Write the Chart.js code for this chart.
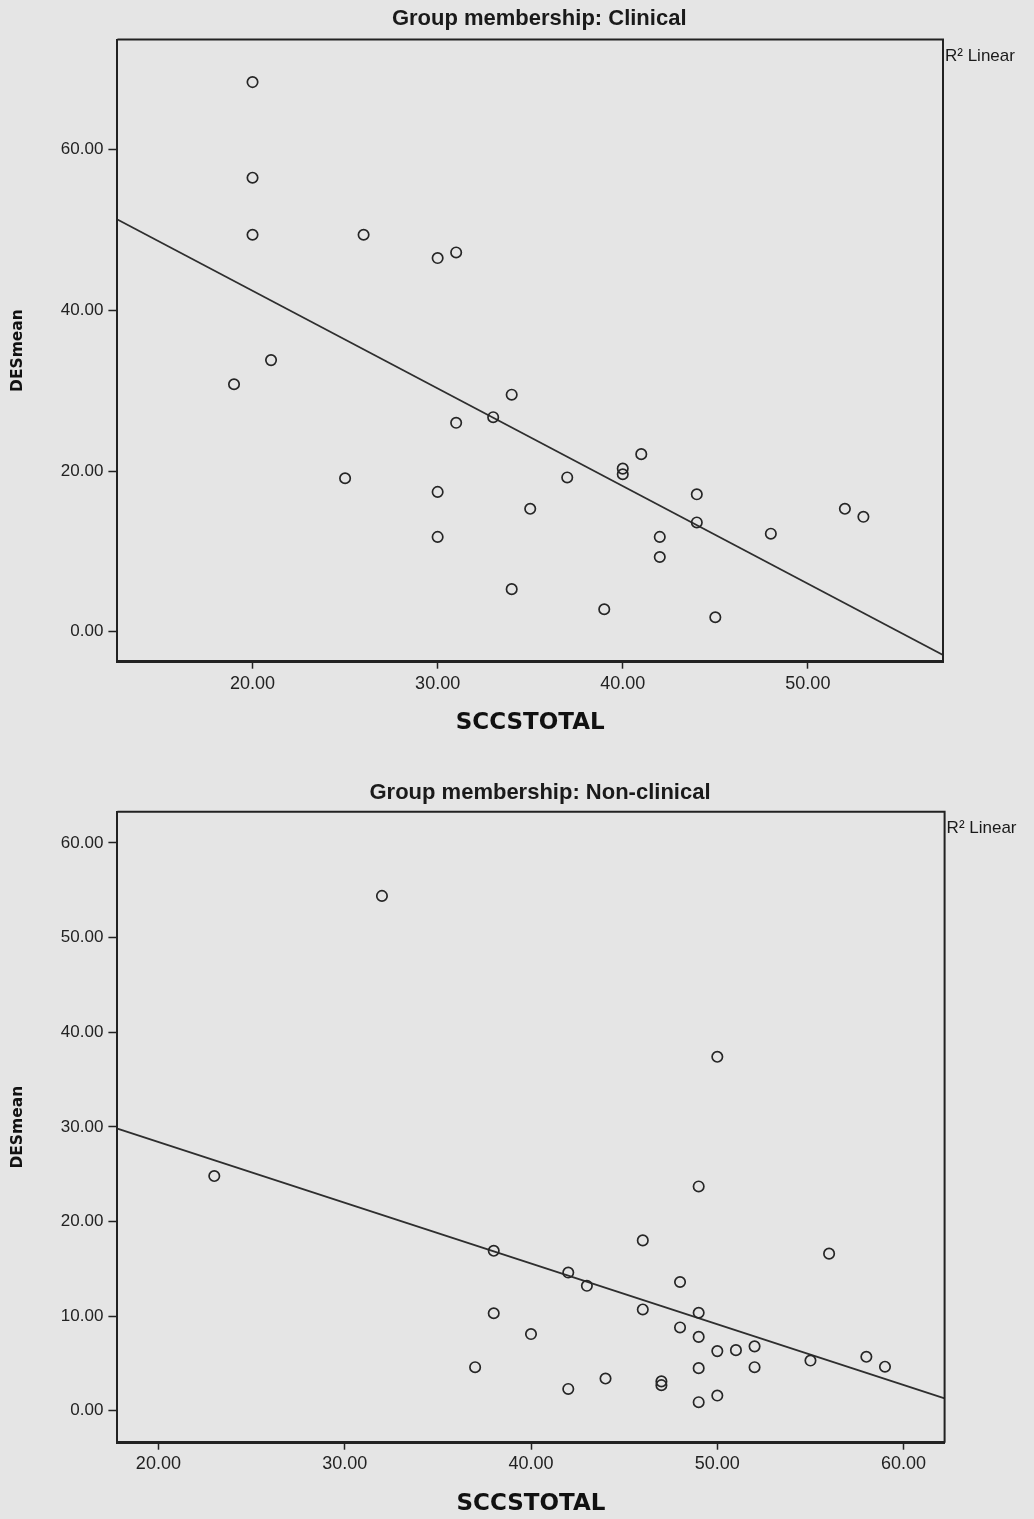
<!DOCTYPE html>
<html>
<head>
<meta charset="utf-8">
<script src="https://cdn.jsdelivr.net/npm/chart.js@4.4.1/dist/chart.umd.min.js"></script>
<style>
  html, body { margin: 0; padding: 0; background: #e5e5e5; }
  .panel { position: absolute; left: 0; width: 1034px; }
  #top { top: 0; height: 760px; }
  #bottom { top: 760px; height: 759px; }
</style>
</head>
<body>
<div class="panel" id="top"><canvas id="clinicalChart" width="1034" height="760"></canvas></div>
<div class="panel" id="bottom"><canvas id="nonClinicalChart" width="1034" height="759"></canvas></div>
<script>
// Clinical group: SCCSTOTAL vs DESmean
const clinicalX = [20, 20, 20, 26, 30, 31, 21, 19, 34, 33, 31, 41, 40, 40, 37, 25, 30, 44, 35, 52, 53, 44, 30, 42, 48, 42, 34, 39, 45];
const clinicalY = [68.4, 56.5, 49.4, 49.4, 46.5, 47.2, 33.8, 30.8, 29.5, 26.7, 26.0, 22.1, 20.3, 19.6, 19.2, 19.1, 17.4, 17.1, 15.3, 15.3, 14.3, 13.6, 11.8, 11.8, 12.2, 9.3, 5.3, 2.8, 1.8];
const clinicalFitX = [12.7, 57.3];
const clinicalFitY = [51.3, -2.9];
const clinicalXTicks = [20, 30, 40, 50];
const clinicalYTicks = [0, 20, 40, 60];

// Non-clinical group
const nonClinicalX = [32, 50, 23, 49, 46, 56, 38, 42, 43, 48, 38, 46, 49, 40, 48, 49, 50, 51, 52, 52, 55, 58, 59, 37, 49, 44, 47, 47, 42, 50, 49];
const nonClinicalY = [54.4, 37.4, 24.8, 23.7, 18.0, 16.6, 16.9, 14.6, 13.2, 13.6, 10.3, 10.7, 10.35, 8.1, 8.8, 7.8, 6.3, 6.4, 6.8, 4.6, 5.3, 5.7, 4.65, 4.6, 4.5, 3.4, 3.1, 2.7, 2.3, 1.6, 0.9];
const nonClinicalFitX = [17.8, 62.2];
const nonClinicalFitY = [29.8, 1.3];
const nonClinicalXTicks = [20, 30, 40, 50, 60];
const nonClinicalYTicks = [0, 10, 20, 30, 40, 50, 60];

const ink = '#222222';

// group title, top/right edges of the plot frame and the clipped R² legend text
const framePlugin = {
  id: 'frame',
  afterDraw(chart, args, opts) {
    const { ctx, chartArea: { left, right, top, bottom } } = chart;
    ctx.save();
    ctx.strokeStyle = ink;
    ctx.lineWidth = 2;
    ctx.beginPath();
    ctx.moveTo(left, top);
    ctx.lineTo(right, top);
    ctx.lineTo(right, bottom);
    ctx.stroke();

    ctx.fillStyle = '#1a1a1a';
    ctx.textBaseline = 'middle';
    ctx.textAlign = 'center';
    ctx.font = 'bold 22px "Liberation Sans", Arial, sans-serif';
    ctx.fillText(opts.title, (left + right) / 2 + 9, opts.titleY);

    ctx.textAlign = 'left';
    ctx.font = '17px "Liberation Sans", Arial, sans-serif';
    ctx.fillText('R² Linear', right + 2, top + 17);
    ctx.restore();
  }
};

function makeChart(id, opts) {
  const points = opts.x.map((v, i) => ({ x: v, y: opts.y[i] }));
  const fit = opts.fitX.map((v, i) => ({ x: v, y: opts.fitY[i] }));
  return new Chart(document.getElementById(id), {
    type: 'scatter',
    data: {
      datasets: [
        {
          data: points,
          pointRadius: 5.2,
          pointHoverRadius: 5.2,
          borderWidth: 1.7,
          borderColor: '#262626',
          backgroundColor: 'rgba(0,0,0,0)'
        },
        {
          type: 'line',
          data: fit,
          borderColor: '#2e2e2e',
          borderWidth: 1.8,
          pointRadius: 0,
          fill: false
        }
      ]
    },
    options: {
      responsive: false,
      animation: false,
      layout: { padding: { left: 0, right: opts.padRight, top: opts.padTop, bottom: 0 } },
      plugins: {
        legend: { display: false },
        tooltip: { enabled: false },
        title: { display: false },
        frame: { title: opts.title, titleY: opts.titleY }
      },
      scales: {
        x: {
          type: 'linear',
          min: opts.xMin,
          max: opts.xMax,
          afterBuildTicks: s => { s.ticks = opts.xTicks.map(v => ({ value: v })); },
          afterFit: s => { s.height = opts.xHeight; },
          grid: { drawOnChartArea: false, drawTicks: true, tickLength: 7, tickColor: ink, tickWidth: 1.5 },
          border: { display: true, color: ink, width: 3 },
          ticks: {
            color: ink,
            padding: opts.xTickPad,
            maxRotation: 0,
            font: { family: '"Liberation Sans", Arial, sans-serif', size: 18 },
            callback: v => v.toFixed(2)
          },
          title: {
            display: true,
            text: 'SCCSTOTAL',
            color: '#111',
            font: { family: '"DejaVu Sans", Verdana, sans-serif', size: 23, weight: 'bold', lineHeight: 1.2 },
            padding: { top: 0, bottom: opts.xTitlePad }
          }
        },
        y: {
          type: 'linear',
          min: opts.yMin,
          max: opts.yMax,
          afterBuildTicks: s => { s.ticks = opts.yTicks.map(v => ({ value: v })); },
          afterFit: s => { s.width = 117.4; },
          grid: { drawOnChartArea: false, drawTicks: true, tickLength: 9, tickColor: ink, tickWidth: 1.5 },
          border: { display: true, color: ink, width: 2 },
          ticks: {
            color: ink,
            padding: 5,
            font: { family: '"Liberation Sans", Arial, sans-serif', size: 17 },
            callback: v => v.toFixed(2)
          },
          title: {
            display: true,
            text: 'DESmean',
            color: '#111',
            font: { family: '"DejaVu Sans", Verdana, sans-serif', size: 15.5, weight: 'bold', lineHeight: 1.2 },
            padding: { top: 9, bottom: 0 }
          }
        }
      }
    },
    plugins: [framePlugin]
  });
}

makeChart('clinicalChart', {
  x: clinicalX, y: clinicalY, fitX: clinicalFitX, fitY: clinicalFitY,
  xTicks: clinicalXTicks, yTicks: clinicalYTicks,
  xMin: 12.7, xMax: 57.3, yMin: -3.73, yMax: 73.7,
  title: 'Group membership: Clinical', titleY: 19,
  padTop: 39.5, padRight: 91,
  xHeight: 98.3, xTickPad: 5, xTitlePad: 23
});

makeChart('nonClinicalChart', {
  x: nonClinicalX, y: nonClinicalY, fitX: nonClinicalFitX, fitY: nonClinicalFitY,
  xTicks: nonClinicalXTicks, yTicks: nonClinicalYTicks,
  xMin: 17.8, xMax: 62.2, yMin: -3.38, yMax: 63.3,
  title: 'Group membership: Non-clinical', titleY: 33,
  padTop: 51.7, padRight: 89.4,
  xHeight: 76.3, xTickPad: 4, xTitlePad: 1
});
</script>
</body>
</html>
